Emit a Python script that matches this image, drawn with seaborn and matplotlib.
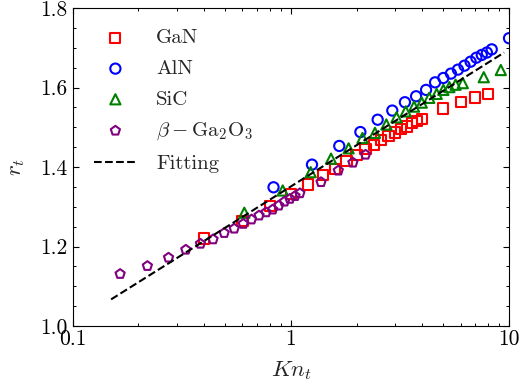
import numpy as np
import matplotlib
matplotlib.use("Agg")
import matplotlib.pyplot as plt
from matplotlib.ticker import MultipleLocator, FixedLocator, FixedFormatter, LogLocator, NullFormatter
import seaborn as sns

# GaN
gan_kn = [0.4, 0.6, 0.8, 1.0, 1.2, 1.4, 1.6, 1.8, 2.0, 2.2, 2.4, 2.6, 2.8, 3.0,
          3.2, 3.4, 3.6, 3.8, 4.0, 5.0, 6.0, 7.0, 8.0]
gan_r = [1.220, 1.265, 1.302, 1.333, 1.356, 1.379, 1.395, 1.415, 1.431, 1.446,
         1.456, 1.468, 1.479, 1.487, 1.496, 1.502, 1.510, 1.515, 1.521, 1.547,
         1.563, 1.575, 1.584]

# AlN
aln_kn = [0.833, 1.25, 1.667, 2.083, 2.5, 2.917, 3.333, 3.75, 4.167, 4.583, 5.0,
          5.417, 5.833, 6.25, 6.667, 7.083, 7.5, 7.917, 8.333, 10.0]
aln_r = [1.349, 1.406, 1.453, 1.488, 1.519, 1.542, 1.563, 1.578, 1.594, 1.613,
         1.624, 1.635, 1.645, 1.655, 1.665, 1.675, 1.682, 1.688, 1.696, 1.724]

# SiC
sic_kn = [0.612, 0.918, 1.233, 1.528, 1.84, 2.13, 2.43, 2.74, 3.05, 3.36, 3.67,
          3.98, 4.31, 4.66, 5.0, 5.33, 5.69, 6.14, 7.66, 9.17]
sic_r = [1.285, 1.341, 1.387, 1.421, 1.447, 1.473, 1.486, 1.507, 1.525, 1.540,
         1.552, 1.562, 1.574, 1.584, 1.594, 1.601, 1.607, 1.611, 1.626, 1.644]

# beta-Ga2O3
gao_kn = [0.165, 0.22, 0.275, 0.33, 0.385, 0.44, 0.495, 0.55, 0.605, 0.66, 0.715,
          0.77, 0.825, 0.88, 0.935, 0.99, 1.045, 1.1, 1.375, 1.65, 1.925, 2.2]
gao_r = [1.131, 1.151, 1.172, 1.192, 1.207, 1.218, 1.234, 1.245, 1.257, 1.268,
         1.278, 1.286, 1.293, 1.303, 1.313, 1.320, 1.327, 1.334, 1.362, 1.391,
         1.411, 1.431]

# Fitted curve (straight on the log axis)
fit_kn = [0.15, 9.5]
fit_r = [1.067, 1.688]

x_ticks = [0.1, 1, 10]
x_tick_labels = ["0.1", "1", "10"]
y_ticks = [1.0, 1.2, 1.4, 1.6, 1.8]
y_tick_labels = ["1.0", "1.2", "1.4", "1.6", "1.8"]

sns.set_theme(style="ticks")
plt.rcParams.update({
    "font.family": ["cmr10", "DejaVu Serif"],
    "mathtext.fontset": "cm",
    "axes.formatter.use_mathtext": True,
    "axes.unicode_minus": False,
    "axes.linewidth": 0.8,
    "axes.edgecolor": "black",
    "xtick.direction": "in",
    "ytick.direction": "in",
    "xtick.top": True,
    "ytick.right": True,
    "xtick.major.size": 4.0,
    "ytick.major.size": 4.0,
    "xtick.minor.size": 2.2,
    "ytick.minor.size": 2.2,
    "xtick.major.width": 0.8,
    "ytick.major.width": 0.8,
    "xtick.minor.width": 0.7,
    "ytick.minor.width": 0.7,
    "xtick.color": "black",
    "ytick.color": "black",
})

fig = plt.figure(figsize=(5.21, 3.91), dpi=100)
ax = fig.add_axes([0.1395, 0.1662, 0.977 - 0.1395, 0.9795 - 0.1662])

ms = 54
lw = 1.5
series = [
    (gan_kn, gan_r, "s", "#ff0000", "GaN", ms),
    (aln_kn, aln_r, "o", "#0000ff", "AlN", ms),
    (sic_kn, sic_r, "^", "#008000", "SiC", ms),
    (gao_kn, gao_r, "p", "#800080", r"$\beta-\mathrm{Ga}_2\mathrm{O}_3$", 48),
]
for kn, r, mk, col, lab, size in series:
    sns.scatterplot(x=kn, y=r, ax=ax, marker=mk, s=size, facecolors="none",
                    edgecolors=col, linewidths=lw, label=lab, zorder=3)

sns.lineplot(x=fit_kn, y=fit_r, ax=ax, color="black", linestyle="--",
             linewidth=1.5, label="Fitting", zorder=4)

ax.set_xscale("log")
ax.set_xlim(0.1, 10)
ax.set_ylim(1.0, 1.8)

ax.xaxis.set_major_locator(FixedLocator(x_ticks))
ax.xaxis.set_major_formatter(FixedFormatter(x_tick_labels))
ax.xaxis.set_minor_locator(LogLocator(base=10, subs=np.arange(2, 10) * 1.0))
ax.xaxis.set_minor_formatter(NullFormatter())
ax.yaxis.set_major_locator(FixedLocator(y_ticks))
ax.yaxis.set_major_formatter(FixedFormatter(y_tick_labels))
ax.yaxis.set_minor_locator(MultipleLocator(0.05))
ax.tick_params(which="both", top=True, right=True, direction="in")
ax.tick_params(axis="both", which="major", labelsize=15.5)
ax.tick_params(axis="x", which="major", pad=2.5)
ax.tick_params(axis="y", which="major", pad=4)

ax.set_xlabel("$Kn_t$", fontsize=16.5, labelpad=7)
ax.set_ylabel("$r_t$", fontsize=16.5, labelpad=9)

for sp in ax.spines.values():
    sp.set_visible(True)
    sp.set_color("black")
    sp.set_linewidth(0.8)

ax.legend(loc="upper left", frameon=False, fontsize=15, handlelength=2.1,
          labelspacing=0.58, handletextpad=0.9, borderaxespad=0.6)

fig.savefig("out.png", dpi=100)
